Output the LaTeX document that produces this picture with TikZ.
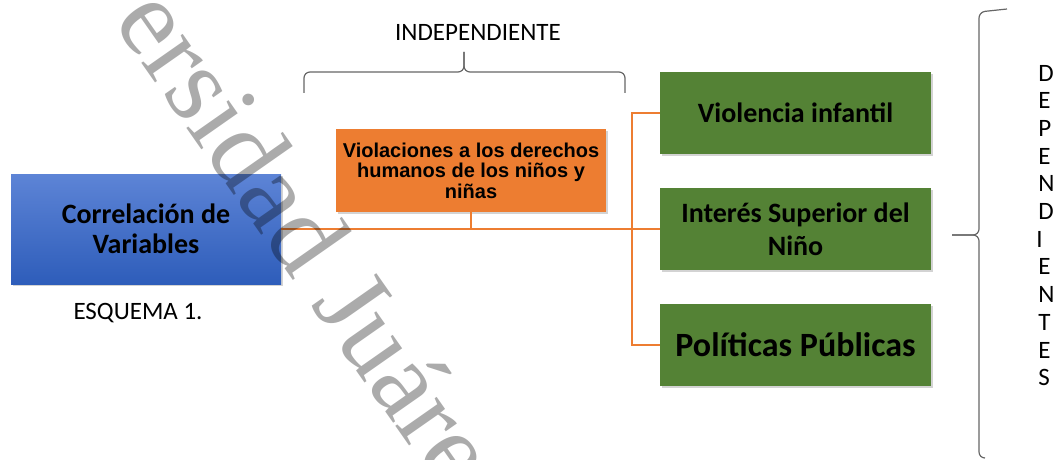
\documentclass[tikz,border=0pt]{standalone}
\usepackage{fontspec}
\setmainfont{Carlito}
\newfontfamily\arialfont{Liberation Sans}
\newfontfamily\timesfont{Liberation Serif}
\usetikzlibrary{shadows}

\definecolor{blueA}{RGB}{93,132,214}
\definecolor{blueB}{RGB}{46,93,186}
\definecolor{orangebox}{RGB}{237,125,49}
\definecolor{greenbox}{RGB}{84,130,53}

\tikzset{
  boxshadow/.style={drop shadow={shadow xshift=1.2pt,shadow yshift=-1.2pt,opacity=.35}},
  varbox/.style={boxshadow,inner sep=0pt,align=center,minimum width=135.5pt,minimum height=41pt,
    fill=greenbox,font=\bfseries\fontsize{14}{16.5}\selectfont},
  link/.style={draw=orangebox,line width=0.8pt},
  brace/.style={draw=black!60,line width=0.6pt,rounded corners=3pt},
  txt/.style={font=\fontsize{12.5}{13.85}\selectfont,inner sep=0pt},
}

\begin{document}
\begin{tikzpicture}[x=0.5pt,y=-0.5pt]
  \useasboundingbox (0,0) rectangle (1054,460);

  \node [boxshadow,inner sep=0pt,align=center,minimum width=135pt,minimum height=55pt,
    top color=blueA,bottom color=blueB,font=\bfseries\fontsize{14}{15}\selectfont]
    (CV) at (146,229) {Correlación de\\Variables};
  \node [txt] (ESQ) at (138,313) {ESQUEMA 1.};

  \node [boxshadow,inner sep=0pt,align=center,minimum width=135pt,minimum height=41.5pt,
    fill=orangebox,font=\arialfont\bfseries\fontsize{10}{10.3}\selectfont]
    (VDH) at (471,170.5) {Violaciones a los derechos\\humanos de los niños y\\niñas};

  \node [varbox] (VI) at (795.5,113) {Violencia infantil};
  \node [varbox] (ISN) at (795.5,229) {Interés Superior del\\Niño};
  \node [varbox,font=\bfseries\fontsize{17}{19}\selectfont] (PP) at (795.5,345) {Políticas Públicas};
  \coordinate (J) at (632,229);

  \draw [link] (CV.east) -- (J);
  \draw [link] (VDH.south) -- (VDH.south |- J);
  \draw [link] (VI.west) -- (VI.west -| J) -- (PP.west -| J) -- (PP.west);
  \draw [link] (J) -- (ISN.west);

  % llaves
  \node [txt] (IND) at (478,32) {INDEPENDIENTE};
  \draw [brace] (304,93) -- (304,72) -- (464,72) -- (464,52);
  \draw [brace] (625,93) -- (625,72) -- (464,72) -- (464,52);

  \draw [brace] (1007,9) -- (979,12) -- (979,235) -- (952,235);
  \draw [brace] (985,458) -- (979,458) -- (979,235) -- (952,235);
  \node [txt,anchor=west,align=left] (DEP) at (1038,225.5)
    {D\\E\\P\\E\\N\\D\\\hspace*{-1pt}I\\E\\N\\T\\E\\S};

  % marca de agua
  \node [rotate=-55,anchor=base west,inner sep=0pt,text=black,text opacity=.33,
    font=\timesfont\fontsize{55}{55}\selectfont] (WM) at (112,21) {ersidad Juáre};
\end{tikzpicture}
\end{document}
